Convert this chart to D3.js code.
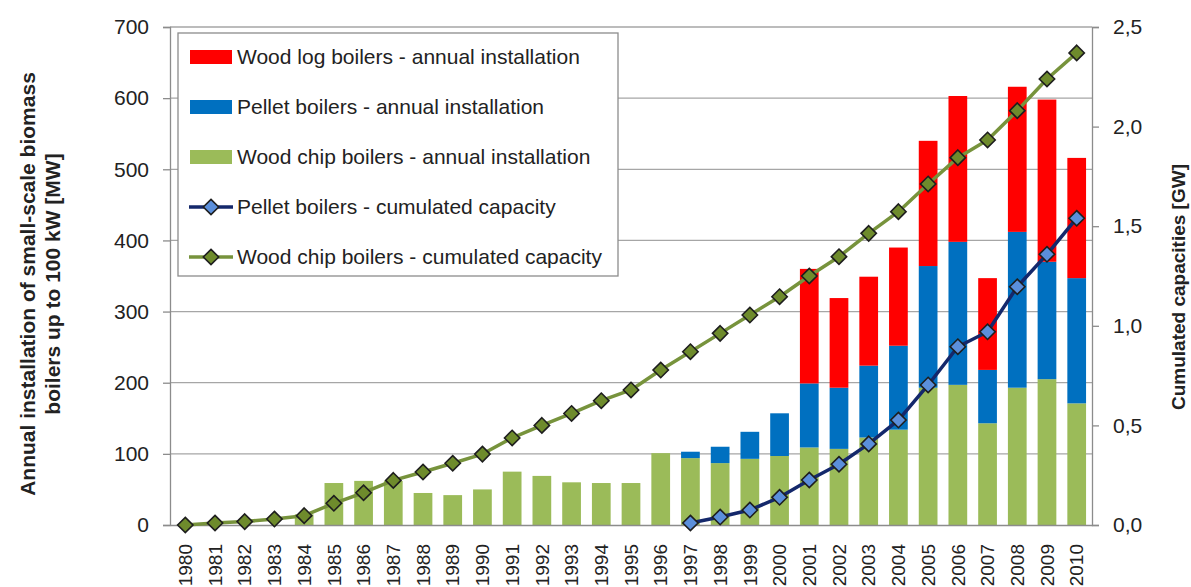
<!DOCTYPE html>
<html lang="en">
<head>
    <meta charset="UTF-8">
    <title>Small-scale biomass boilers</title>
    <script src="https://d3js.org/d3.v7.min.js"></script>
    <style>
        body { margin: 0; background: #fff; }
        svg { font-family: "Liberation Sans", Arial, sans-serif; }
    </style>
</head>
<body>
    <svg id="chart" width="1191" height="587"></svg>
    <script>
        // Data
        const years = d3.range(1980, 2011).map(String);

        // annual installations [MW]
        const chipAnnual = [0, 0, 0, 0, 15, 59, 62, 62, 45, 42, 50, 75, 69, 60, 59, 59,
            101, 94, 87, 93, 97, 109, 107, 123, 134, 193, 197, 143, 193, 205, 171];
        const pelletAnnual = [0, 0, 0, 0, 0, 0, 0, 0, 0, 0, 0, 0, 0, 0, 0, 0,
            0, 9, 23, 38, 60, 90, 86, 101, 118, 171, 201, 75, 219, 165, 176];
        const logAnnual = [0, 0, 0, 0, 0, 0, 0, 0, 0, 0, 0, 0, 0, 0, 0, 0,
            0, 0, 0, 0, 0, 161, 126, 125, 138, 176, 205, 129, 204, 228, 169];

        // cumulated capacities [GW]
        const chipCumulated = [0.0, 0.01, 0.017, 0.03, 0.047, 0.109, 0.162, 0.224, 0.266, 0.31,
            0.356, 0.437, 0.50, 0.56, 0.624, 0.678, 0.778, 0.87, 0.962, 1.054, 1.146,
            1.25, 1.347, 1.464, 1.573, 1.712, 1.844, 1.933, 2.08, 2.239, 2.37];
        const pelletYears = d3.range(1997, 2011).map(String);
        const pelletCumulated = [0.01, 0.04, 0.075, 0.139, 0.226, 0.305, 0.407, 0.527,
            0.703, 0.895, 0.97, 1.196, 1.359, 1.54];

        const leftTicks = [0, 100, 200, 300, 400, 500, 600, 700];
        const rightTicks = [0, 0.5, 1.0, 1.5, 2.0, 2.5];

        const legendItems = [
            { label: 'Wood log boilers - annual installation', type: 'bar', color: '#ff0000' },
            { label: 'Pellet boilers - annual installation', type: 'bar', color: '#0070c0' },
            { label: 'Wood chip boilers - annual installation', type: 'bar', color: '#9bbb59' },
            { label: 'Pellet boilers - cumulated capacity', type: 'line', color: '#14286b', fill: '#5b8fdb' },
            { label: 'Wood chip boilers - cumulated capacity', type: 'line', color: '#77933c', fill: '#6e8b2c' }
        ];

        const svg = d3.select('#chart');
        const plotLeft = 170, plotRight = 1092, plotTop = 27, plotBottom = 525;

        const x = d3.scaleBand().domain(years).range([plotLeft, plotRight])
            .paddingInner(0.37).paddingOuter(0.2);
        const yL = d3.scaleLinear().domain([0, 700]).range([plotBottom, plotTop]);
        const yR = d3.scaleLinear().domain([0, 2.5]).range([plotBottom, plotTop]);

        // gridlines
        svg.append('g')
            .selectAll('line')
            .data(leftTicks.slice(1))
            .join('line')
            .attr('x1', plotLeft).attr('x2', plotRight)
            .attr('y1', d => yL(d)).attr('y2', d => yL(d))
            .attr('stroke', '#a6a6a6').attr('stroke-width', 1.3);

        // stacked bars
        const rows = years.map((yr, i) => ({
            year: yr, chip: chipAnnual[i], pellet: pelletAnnual[i], log: logAnnual[i]
        }));
        const stack = d3.stack().keys(['chip', 'pellet', 'log'])(rows);
        const barColors = { chip: '#9bbb59', pellet: '#0070c0', log: '#ff0000' };

        svg.append('g')
            .selectAll('g')
            .data(stack)
            .join('g')
            .attr('fill', d => barColors[d.key])
            .selectAll('rect')
            .data(d => d)
            .join('rect')
            .attr('x', d => x(d.data.year))
            .attr('width', x.bandwidth())
            .attr('y', d => yL(d[1]))
            .attr('height', d => yL(d[0]) - yL(d[1]));

        // left axis
        const axL = svg.append('g')
            .attr('transform', `translate(${plotLeft},0)`)
            .call(d3.axisLeft(yL).tickValues(leftTicks).tickSize(7).tickPadding(14));
        axL.select('.domain').attr('stroke', '#8c8c8c').attr('stroke-width', 1.3);
        axL.selectAll('.tick line').attr('stroke', '#8c8c8c').attr('stroke-width', 1.3);
        axL.selectAll('.tick text').attr('font-size', 21).attr('fill', '#222')
            .attr('font-family', '"Liberation Sans", Arial, sans-serif');

        // right axis
        const axR = svg.append('g')
            .attr('transform', `translate(${plotRight},0)`)
            .call(d3.axisRight(yR).tickValues(rightTicks).tickSize(7).tickPadding(14)
                .tickFormat(d => d3.format('.1f')(d).replace('.', ',')));
        axR.select('.domain').attr('stroke', '#8c8c8c').attr('stroke-width', 1.3);
        axR.selectAll('.tick line').attr('stroke', '#8c8c8c').attr('stroke-width', 1.3);
        axR.selectAll('.tick text').attr('font-size', 21).attr('fill', '#222')
            .attr('font-family', '"Liberation Sans", Arial, sans-serif');

        // bottom axis
        const axB = svg.append('g')
            .attr('transform', `translate(0,${plotBottom})`)
            .call(d3.axisBottom(x).tickSize(0).tickPadding(0));
        axB.select('.domain').attr('stroke', '#8c8c8c').attr('stroke-width', 1.3);
        axB.selectAll('.tick text')
            .attr('font-size', 19).attr('fill', '#222')
            .attr('font-family', '"Liberation Sans", Arial, sans-serif')
            .attr('text-anchor', 'end')
            .attr('y', 0)
            .attr('dy', '0.35em')
            .attr('transform', 'translate(0,19) rotate(-90)');

        // cumulated lines
        const diamond = d3.symbol().type(d3.symbolDiamond2).size(150);
        function drawLine(cats, vals, color, fill) {
            const pts = cats.map((c, i) => [x(c) + x.bandwidth() / 2, yR(vals[i])]);
            svg.append('path')
                .attr('d', d3.line()(pts))
                .attr('fill', 'none')
                .attr('stroke', color)
                .attr('stroke-width', 3.5)
                .attr('stroke-linejoin', 'round');
            svg.append('g')
                .selectAll('path')
                .data(pts)
                .join('path')
                .attr('d', diamond)
                .attr('transform', d => `translate(${d[0]},${d[1]})`)
                .attr('fill', fill)
                .attr('stroke', '#1e1e1e')
                .attr('stroke-width', 1.6);
        }
        drawLine(years, chipCumulated, '#77933c', '#6e8b2c');
        drawLine(pelletYears, pelletCumulated, '#14286b', '#5b8fdb');

        // legend
        const legend = svg.append('g');
        legend.append('rect')
            .attr('x', 178).attr('y', 33).attr('width', 440).attr('height', 243)
            .attr('fill', '#fff').attr('stroke', '#8c8c8c').attr('stroke-width', 1.3);
        legendItems.forEach((item, i) => {
            const cy = 57 + i * 50;
            if (item.type === 'bar') {
                legend.append('rect')
                    .attr('x', 190).attr('y', cy - 7).attr('width', 42).attr('height', 14)
                    .attr('fill', item.color);
            } else {
                legend.append('line')
                    .attr('x1', 189).attr('x2', 233).attr('y1', cy).attr('y2', cy)
                    .attr('stroke', item.color).attr('stroke-width', 3.5);
                legend.append('path')
                    .attr('d', diamond)
                    .attr('transform', `translate(211,${cy})`)
                    .attr('fill', item.fill).attr('stroke', '#1e1e1e').attr('stroke-width', 1.6);
            }
            legend.append('text')
                .attr('x', 237).attr('y', cy).attr('dy', '0.35em')
                .attr('font-size', 21).attr('fill', '#222')
                .text(item.label);
        });

        // axis titles
        const leftTitle = svg.append('text')
            .attr('transform', 'translate(40,284) rotate(-90)')
            .attr('text-anchor', 'middle')
            .attr('font-size', 21).attr('font-weight', 'bold').attr('fill', '#222');
        leftTitle.append('tspan').attr('x', 0).attr('y', -5).text('Annual installation of small-scale biomass');
        leftTitle.append('tspan').attr('x', 0).attr('y', 20).text('boilers  up to 100 kW [MW]');

        svg.append('text')
            .attr('transform', 'translate(1178,287) rotate(-90)')
            .attr('text-anchor', 'middle')
            .attr('dy', '0.35em')
            .attr('font-size', 19).attr('font-weight', 'bold').attr('fill', '#222')
            .text('Cumulated capacities [GW]');
    </script>
</body>
</html>
